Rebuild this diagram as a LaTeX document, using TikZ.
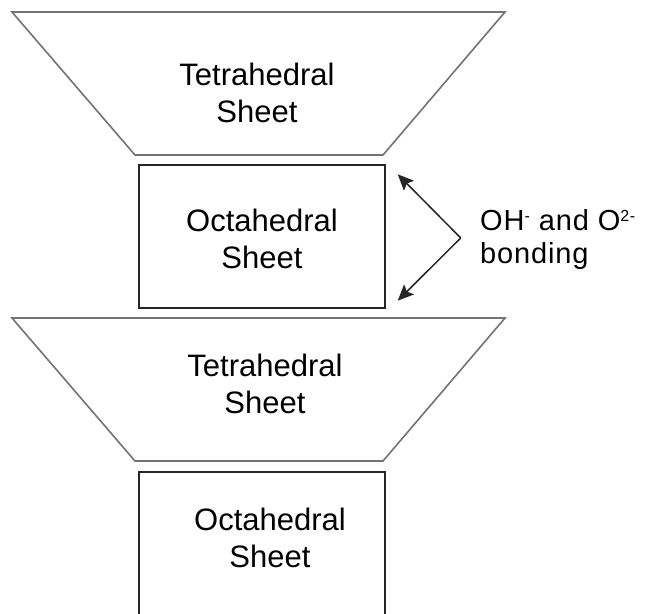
\documentclass[tikz,border=0pt]{standalone}
\usepackage{fontspec}
\setmainfont{Liberation Sans}
\usetikzlibrary{arrows.meta}

% small raised charge of an ion: #1 = charge
\newcommand{\ionsup}[1]{\raisebox{8.5pt}{\fontsize{16}{16}\selectfont #1}}

\begin{document}
\begin{tikzpicture}[x=1pt, y=-1pt,
    tetra/.style={line width=1.6pt, draw=black!55, line join=miter},
    octbox/.style={draw=black!85, line width=1.4pt, minimum width=246pt, minimum height=143pt, inner sep=0pt},
    sheetlabel/.style={align=center, inner sep=0pt, font=\fontsize{31}{37}\selectfont},
    bondlabel/.style={align=left, anchor=north west, inner sep=0pt,
      font=\fontsize{29}{33}\selectfont\addfontfeatures{LetterSpace=3}},
    bond/.style={line width=1.5pt, draw=black!85, -{Stealth[length=16pt, width=14pt, inset=3pt]}}]
  % A tetrahedral sheet, wide at the top: #1 = y of its top edge, #2 = name of its text, #3 = centre of its text.
  \newcommand{\tetrasheet}[3]{%
    \draw[tetra] (12,#1) -- (505,#1) -- (383,#1+143) -- (135,#1+143) -- cycle;
    \node[sheetlabel] (#2) at (#3) {Tetrahedral\\Sheet};}
  % An octahedral sheet: #1 = name of the box, #2 = y of its centre, #3 = centre of its text.
  \newcommand{\octsheet}[3]{%
    \node[octbox] (#1) at (262,#2) {};
    \node[sheetlabel] (#1text) at (#3) {Octahedral\\Sheet};}

  \useasboundingbox (0,0) rectangle (647,613);
  % the layers from top to bottom; the last box runs past the lower edge
  \tetrasheet{12}{tet1}{257,93}
  \octsheet{oct1}{236.5}{262,239}
  \tetrasheet{318}{tet2}{265,384}
  \octsheet{oct2}{543.5}{270,538}

  % the bonding between the octahedral sheet and the tetrahedral sheets
  \coordinate (bend) at ([shift={(75pt,-1.5pt)}]oct1.east);
  \coordinate (tipup) at ([shift={(12pt,-10pt)}]oct1.north east);
  \coordinate (tipdown) at ([shift={(12pt,8pt)}]oct1.south east);
  \draw[bond] (bend) -- (tipup);
  \draw[bond] (bend) -- (tipdown);
  \node[bondlabel] (bonding) at (480,209) {OH\ionsup{-} and O\ionsup{2-}\\bonding};
\end{tikzpicture}
\end{document}
